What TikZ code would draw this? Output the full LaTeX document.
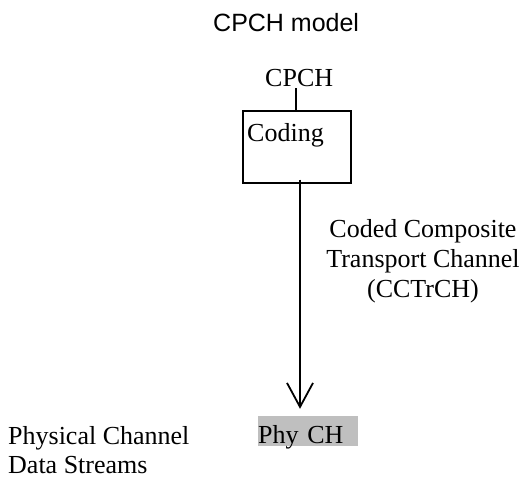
\documentclass[tikz,border=0pt]{standalone}
\usepackage{fontspec}
\setmainfont{Liberation Serif}
\newfontfamily\titlefont{Liberation Sans}
\usetikzlibrary{arrows.meta}

\tikzset{
  txt/.style={inner sep=0pt, font=\fontsize{26}{30}\selectfont},
  box/.style={draw, line width=1.8pt, inner sep=0pt},
  link/.style={line width=1.8pt},
  arr/.style={line width=1.8pt, -{Straight Barb[length=24pt,width=26pt,line width=1.8pt]}}
}

\begin{document}
\begin{tikzpicture}[x=1pt,y=-1pt]

        \useasboundingbox (0,0) rectangle (526,482) ;

        \node [txt, font=\titlefont\fontsize{25}{30}\selectfont, anchor=base west] (title) at (213,31) {CPCH model} ;

        \node [txt, anchor=base west] (cpch) at (265,86) {CPCH} ;
        \node [box, minimum width=108pt, minimum height=72pt] (coding) at (296.7,146.7) {} ;
        \node [txt, anchor=base west] (codingtext) at (247,141) {Coding} ;

        \node [txt, align=center, anchor=base] (cctrch) at (423,297) {Coded Composite\\Transport Channel\\(CCTrCH)} ;

        \node [txt, fill=black!25, text width=100pt, text height=27pt, text depth=3pt, anchor=base west] (phy) at (258,443) {Phy CH} ;
        \node [txt, font=\fontsize{26}{29}\selectfont, align=left, anchor=base west] (streams) at (8,473) {Physical Channel\\Data Streams} ;

        \draw [link] ([xshift=-3pt,yshift=-2pt]cpch.south) to ([xshift=-3pt]cpch.south |- coding.north) ;
        \draw [arr] ([xshift=3.3pt,yshift=4pt]coding.south) to ([xshift=3.3pt,yshift=7pt]coding.south |- phy.north) ;

      \end{tikzpicture}
\end{document}
